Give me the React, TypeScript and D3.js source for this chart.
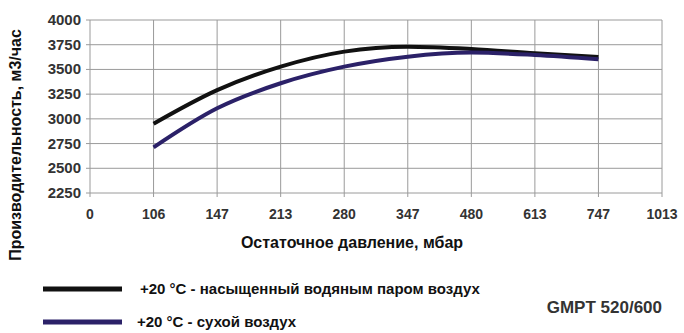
import React from "react";
import * as d3 from "d3";

const categories = ["0", "106", "147", "213", "280", "347", "480", "613", "747", "1013"];
const yTicks = [2250, 2500, 2750, 3000, 3250, 3500, 3750, 4000];
const saturatedX = ["106", "147", "213", "280", "347", "480", "613", "747"];
const saturatedY = [2950, 3290, 3528, 3680, 3730, 3707, 3663, 3625];
const dryX = ["106", "147", "213", "280", "347", "480", "613", "747"];
const dryY = [2712, 3107, 3360, 3528, 3629, 3670, 3646, 3603];
const seriesNames = ["+20 °C - насыщенный водяным паром воздух", "+20 °C - сухой воздух"];
const seriesColors = ["#111111", "#2b2168"];

const W = 684;
const H = 333;
const font = "'Liberation Sans', Arial, sans-serif";

export default function App() {
  const x = d3.scalePoint<string>().domain(categories).range([90, 662]);
  const y = d3.scaleLinear().domain([2250, 4000]).range([193, 20]);
  const line = d3
    .line<[string, number]>()
    .x((d) => x(d[0]) as number)
    .y((d) => y(d[1]))
    .curve(d3.curveMonotoneX);
  const s1 = saturatedX.map((c, i) => [c, saturatedY[i]] as [string, number]);
  const s2 = dryX.map((c, i) => [c, dryY[i]] as [string, number]);

  return (
    <svg width={W} height={H} style={{ position: "absolute", left: 0, top: 0, background: "#fff" }}>
      {yTicks.map((t) => (
        <line key={"h" + t} x1={86} x2={662} y1={y(t)} y2={y(t)} stroke="#9a9a9a" strokeWidth={1} />
      ))}
      {categories.map((c) => (
        <line key={"v" + c} x1={x(c)} x2={x(c)} y1={20} y2={197} stroke="#9a9a9a" strokeWidth={1} />
      ))}
      {yTicks.map((t) => (
        <text key={"yl" + t} x={81} y={y(t) + 5} textAnchor="end" fontFamily={font} fontWeight="bold" fontSize={15} fill="#333">
          {t}
        </text>
      ))}
      {categories.map((c) => (
        <text key={"xl" + c} x={x(c)} y={219} textAnchor="middle" fontFamily={font} fontWeight="bold" fontSize={14} fill="#333">
          {c}
        </text>
      ))}
      <path d={line(s1) || ""} fill="none" stroke={seriesColors[0]} strokeWidth={4} />
      <path d={line(s2) || ""} fill="none" stroke={seriesColors[1]} strokeWidth={4} />
      <text x={352} y={248} textAnchor="middle" fontFamily={font} fontWeight="bold" fontSize={16} fill="#111">
        Остаточное давление, мбар
      </text>
      <text
        transform={`translate(21, 145) rotate(-90)`}
        textAnchor="middle"
        fontFamily={font}
        fontWeight="bold"
        fontSize={16}
        fill="#111"
      >
        Производительность, м3/час
      </text>
      {seriesNames.map((n, i) => (
        <g key={n}>
          <line x1={43} x2={122} y1={289 + i * 33} y2={289 + i * 33} stroke={seriesColors[i]} strokeWidth={5} />
          <text x={i === 0 ? 140 : 137} y={294 + i * 33} fontFamily={font} fontWeight="bold" fontSize={15} fill="#111">
            {n}
          </text>
        </g>
      ))}
      <text x={662} y={313} textAnchor="end" fontFamily={font} fontWeight="bold" fontSize={17} fill="#333">
        GMPT 520/600
      </text>
    </svg>
  );
}
